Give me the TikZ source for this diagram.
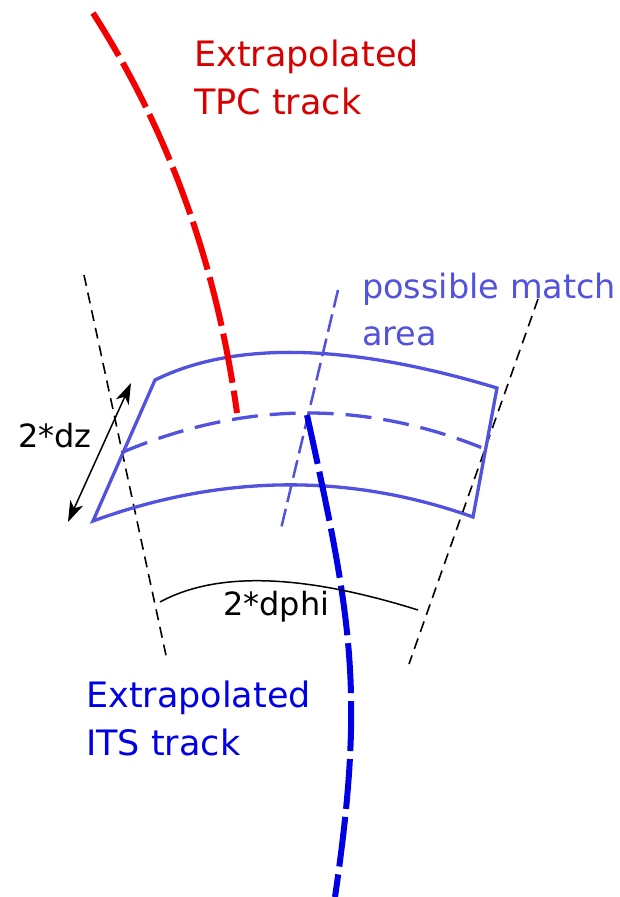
\documentclass[tikz,border=0pt]{standalone}
\usepackage{fontspec}
\setmainfont{DejaVu Sans}
\usetikzlibrary{arrows.meta}
\definecolor{TrackRed}{RGB}{245,0,0}
\definecolor{LabelRed}{RGB}{215,0,0}
\definecolor{TrackBlue}{RGB}{0,0,228}
\definecolor{AreaBlue}{RGB}{82,82,222}

\begin{document}
\begin{tikzpicture}[
  x=1pt,y=-1pt,
  tpc/.style={draw=TrackRed,line width=6pt,dash pattern=on 50pt off 8pt},
  its/.style={draw=TrackBlue,line width=6pt,dash pattern=on 50pt off 8pt},
  area edge/.style={draw=AreaBlue,line width=3.3pt},
  area mid/.style={draw=AreaBlue,line width=3.3pt,dash pattern=on 26pt off 12pt},
  area axis/.style={draw=AreaBlue,line width=2.5pt,dash pattern=on 18pt off 7pt},
  window/.style={draw=black,line width=1.6pt,dash pattern=on 11pt off 7pt},
  span/.style={draw=black,line width=1.5pt},
  label/.style={font=\fontsize{32}{47}\selectfont,align=left,inner sep=0pt,anchor=base west},
  big label/.style={label,font=\fontsize{35}{48}\selectfont}]
\path[use as bounding box] (0,0) rectangle (620,897);
% phi window
\draw[window] (84,275) -- (167,660);
\draw[window] (538,299) -- (409,664);
% possible match area
\coordinate (tl) at (155,380);
\coordinate (tr) at (497,388);
\coordinate (br) at (473,517);
\coordinate (bl) at (93,521);
\coordinate (ml) at (123,452);
\coordinate (mr) at (485,449);
\draw[area edge] (tl) .. controls (234,341) and (348,343) .. (tr) -- (br)
  .. controls (349,473) and (222,474) .. (bl) -- cycle;
\draw[area mid] (ml) .. controls (244,401) and (365,400) .. (mr);
\draw[area axis] (338,290) -- (280,533);
% tracks
\coordinate (tpc start) at (93,13);
\coordinate (tpc end) at (237,413);
\coordinate (its start) at (307,415);
\coordinate (its end) at (335,897);
\draw[tpc] (tpc start) .. controls (178,146) and (219,282) .. (tpc end);
\draw[its] (its start) .. controls (352,620) and (365,692) .. (its end);
% widths
\coordinate (dz top) at (131,383);
\coordinate (dz bottom) at (68,522);
\draw[span,{Stealth[length=21pt,width=14pt,inset=6pt]}-{Stealth[length=21pt,width=14pt,inset=6pt]}]
  (dz top) -- (dz bottom);
\coordinate (dphi left) at (160,602);
\coordinate (dphi right) at (418,610);
\draw[span] (dphi left) .. controls (217,571) and (303,574) .. (dphi right);
\node[big label,text=LabelRed] (tpc label) at (194,114) {Extrapolated\\TPC track};
\node[label,text=AreaBlue,font=\fontsize{33.5}{47}\selectfont] (area label) at (362,345) {possible match\\area};
\node[big label,text=TrackBlue] (its label) at (86,755) {Extrapolated\\ITS track};
\node[label] (dz label) at (18,447) {2*dz};
\node[label] (dphi label) at (223,615) {2*dphi};
\end{tikzpicture}
\end{document}
